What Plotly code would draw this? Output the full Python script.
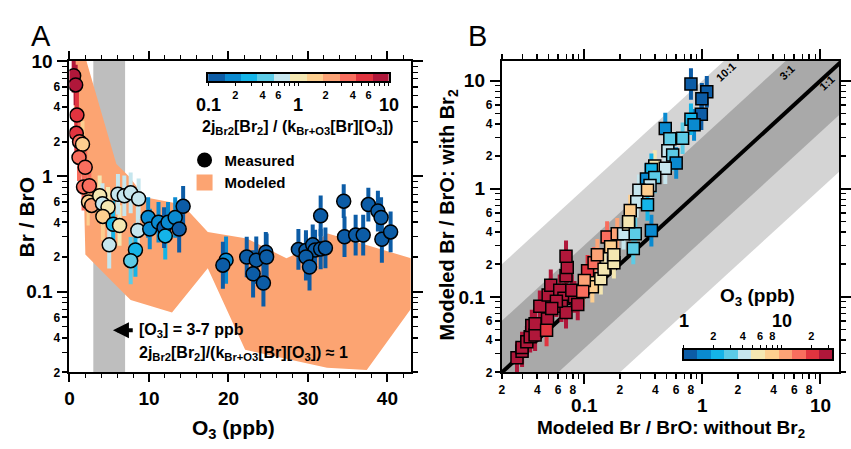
import numpy as np
import plotly.graph_objects as go

# ---------------- Panel A: measured Br/BrO vs O3 ----------------
o3_meas = [0.53, 0.78, 0.94, 0.86, 1.27, 1.64, 1.2, 1.98, 1.77, 2.5, 2.4, 2.8, 3.8, 4.15, 4.85, 4.2,
           5.5, 6.3, 5.0, 6.1, 6.9, 7.7, 8.7, 8.6, 8.3, 7.7, 9.9, 10.1, 11.2, 11.9, 12.05, 12.4,
           13.3, 13.8, 14.3, 19.7, 19.3, 22.3, 23.5, 24.7, 24.8, 23.1, 24.4, 28.8, 29.75, 30.6,
           30.9, 29.75, 30.2, 31.6, 32.2, 31.6, 34.5, 34.6, 36.0, 36.95, 37.6, 38.8, 39.2, 39.3, 40.4]
brbro_meas = [7.45, 6.2, 3.4, 2.36, 2.0, 1.9, 1.46, 1.2, 0.81, 0.83, 0.60, 0.56, 0.68, 0.58, 0.54, 0.45,
              0.385, 0.375, 0.255, 0.70, 0.68, 0.72, 0.64, 0.34, 0.23, 0.186, 0.44, 0.35, 0.40, 0.36, 0.305, 0.40,
              0.44, 0.35, 0.55, 0.188, 0.17, 0.20, 0.188, 0.22, 0.20, 0.143, 0.119, 0.233, 0.228, 0.255,
              0.23, 0.20, 0.164, 0.235, 0.24, 0.455, 0.61, 0.30, 0.31, 0.31, 0.57, 0.50, 0.44, 0.285, 0.33]
ratio_meas = [8, 7, 6.5, 6, 4.2, 1.5, 4, 3, 3.2, 3, 1.5, 2.2, 1.0, 0.65, 1.0, 1.5,
              0.3, 1.0, 0.65, 0.65, 0.65, 0.65, 0.65, 0.65, 0.3, 0.43, 0.19, 0.19, 0.19, 0.12, 0.3, 0.19,
              0.17, 0.12, 0.12, 0.19, 0.12, 0.12, 0.12, 0.12, 0.12, 0.12, 0.12, 0.12, 0.12, 0.12,
              0.12, 0.12, 0.12, 0.12, 0.12, 0.12, 0.12, 0.12, 0.12, 0.12, 0.12, 0.12, 0.12, 0.12, 0.12]
err_meas = [1.4, 1.5, 1.6, 1.6, 1.5, 1.6, 1.6, 1.6, 1.6, 1.5, 1.6, 1.6, 1.5, 1.5, 1.5, 1.6,
            1.6, 1.5, 1.6, 1.5, 1.5, 1.5, 1.5, 1.6, 1.7, 1.6, 1.5, 1.5, 1.5, 1.5, 1.6, 1.5,
            1.5, 1.6, 1.5, 1.6, 1.6, 1.5, 1.6, 1.5, 1.6, 1.6, 1.6, 1.5, 1.5, 1.5,
            1.5, 1.6, 1.6, 1.5, 1.5, 1.5, 1.4, 1.5, 1.5, 1.5, 1.4, 1.5, 1.5, 1.6, 1.5]

# Modeled range (upper and lower envelopes)
model_up_o3 = [0.4, 1.8, 5.9, 7.5, 9.5, 14.2, 17.4, 22.3, 27.3, 28.9, 32.5, 43.0]
model_up = [12, 12, 1.28, 1.0, 0.66, 0.57, 0.33, 0.29, 0.195, 0.22, 0.32, 0.195]
model_lo_o3 = [0.4, 0.6, 1.1, 1.8, 2.0, 6.9, 7.7, 12.9, 17.4, 22.1, 32.4, 37.4, 43.0]
model_lo = [12, 3.0, 1.3, 0.8, 0.21, 0.096, 0.085, 0.066, 0.16, 0.0314, 0.022, 0.021, 0.072]

o3_window = [3, 7]

# ---------------- Panel B: modeled with vs without Br2 ----------------
b_without = [0.0269, 0.0297, 0.0297, 0.0326, 0.0348, 0.0359, 0.0383, 0.0383, 0.0488, 0.042, 0.0494, 0.052,
             0.0619, 0.0672, 0.064, 0.07, 0.07, 0.0717, 0.07, 0.0826, 0.088, 0.0784, 0.058, 0.053, 0.0479,
             0.1066, 0.121, 0.129, 0.156, 0.167, 0.19, 0.117, 0.1, 0.097, 0.138, 0.147, 0.178, 0.178,
             0.215, 0.237, 0.27, 0.26, 0.37, 0.8, 1.09, 0.99, 0.98, 0.8, 0.85, 0.485, 0.53, 0.68, 0.51,
             0.56, 0.6, 0.395, 0.485, 0.37, 0.336, 0.395, 0.36, 0.29, 0.343, 0.278, 0.343, 0.245, 0.237]
b_with = [0.0274, 0.0314, 0.034, 0.0385, 0.0428, 0.0544, 0.0443, 0.0564, 0.0623, 0.082, 0.104, 0.128,
          0.115, 0.097, 0.082, 0.0715, 0.157, 0.187, 0.237, 0.1, 0.085, 0.115, 0.091, 0.078, 0.049,
          0.174, 0.207, 0.245, 0.358, 0.291, 0.383, 0.124, 0.142, 0.112, 0.147, 0.18, 0.207, 0.245,
          0.383, 0.47, 0.383, 0.28, 0.41, 9.3, 7.9, 6.8, 4.9, 4.4, 3.9, 3.6, 2.9, 2.93, 2.25,
          2.05, 1.73, 1.62, 1.55, 1.51, 1.23, 1.27, 1.07, 0.97, 0.97, 0.76, 0.71, 0.63, 0.494]
b_o3 = [27, 27, 27, 27, 27, 27, 27, 27, 27, 27, 27, 27,
        27, 27, 27, 27, 27, 27, 27, 27, 27, 27, 27, 27, 19.7,
        19.7, 14.4, 10.5, 14.4, 7.7, 10.5, 7.7, 10.5, 14.4, 5.6, 5.6, 5.6, 5.6,
        4.1, 5.6, 3.0, 3.0, 1.6, 1.17, 1.17, 1.17, 1.17, 2.2, 1.6, 1.6, 3.0, 3.0, 4.1,
        3.0, 1.6, 5.6, 4.1, 2.2, 1.6, 3.0, 4.1, 4.1, 7.7, 4.1, 2.2, 7.7, 5.6]
b_err = [1.4] * len(b_without)

ratio_lines = [10, 3]

# colour table shared by both colour bars (11 steps)
cb_colors = ["#0c5ca6", "#0a8ad0", "#14b4e8", "#5ccbe6", "#c6e6ee", "#f4e7b2",
             "#fdce8f", "#fca376", "#f96e5e", "#e1343f", "#b0173a"]
nC = len(cb_colors)
cscale = []
for i, c in enumerate(cb_colors):
    cscale.append([i / nC, c])
    cscale.append([(i + 1) / nC, c])

A_cmin, A_cmax = -1.0, 1.0           # log10 of 0.1 .. 10
B_cmin, B_cmax = 0.0, np.log10(32.8)  # log10 of O3 1 .. ~33 ppb

def bin_color(v, cmin, cmax):
    k = int(np.floor((np.log10(v) - cmin) / (cmax - cmin) * nC))
    return cb_colors[min(max(k, 0), nC - 1)]

W, H = 851, 449
def px(x):
    return x / W
def py(y):
    return 1 - y / H

FONT = "Liberation Sans"
fig = go.Figure()

# ---- Panel A ----
poly_x = list(model_up_o3) + list(model_lo_o3[::-1])
poly_y = list(model_up) + list(model_lo[::-1])
fig.add_trace(go.Scatter(x=poly_x, y=poly_y, fill="toself", fillcolor="#fca472",
                         line=dict(width=0), mode="lines", hoverinfo="skip",
                         showlegend=False, xaxis="x", yaxis="y"))

groups = {}
for x, y, r, f in zip(o3_meas, brbro_meas, ratio_meas, err_meas):
    c = bin_color(r, A_cmin, A_cmax)
    gx, gy = groups.setdefault(c, ([], []))
    gx += [x, x, None]
    gy += [y / f, y * f, None]
for c, (gx, gy) in groups.items():
    fig.add_trace(go.Scatter(x=gx, y=gy, mode="lines", line=dict(color=c, width=4),
                             showlegend=False, hoverinfo="skip", xaxis="x", yaxis="y3"))

fig.add_trace(go.Scatter(x=o3_meas, y=brbro_meas, mode="markers", showlegend=False,
                         marker=dict(size=14, symbol="circle", color=np.log10(ratio_meas),
                                     colorscale=cscale, cmin=A_cmin, cmax=A_cmax,
                                     line=dict(color="black", width=1.5)),
                         xaxis="x", yaxis="y3"))

# legend entries
fig.add_trace(go.Scatter(x=[None], y=[None], mode="markers", name="Measured",
                         marker=dict(size=15, color="black", symbol="circle"), xaxis="x", yaxis="y3"))
fig.add_trace(go.Scatter(x=[None], y=[None], mode="markers", name="Modeled",
                         marker=dict(size=16, color="#fca472", symbol="square"), xaxis="x", yaxis="y3"))

# ---- Panel B ----
band_x = [1e-3, 1e2]
for r, col in zip(ratio_lines, ["#d4d4d4", "#a9a9a9"]):
    fig.add_trace(go.Scatter(x=[band_x[0], band_x[1], band_x[1], band_x[0]],
                             y=[band_x[0] * r, band_x[1] * r, band_x[1] / r, band_x[0] / r],
                             fill="toself", fillcolor=col, line=dict(width=0), mode="lines",
                             hoverinfo="skip", showlegend=False, xaxis="x2", yaxis="y2"))
fig.add_trace(go.Scatter(x=band_x, y=band_x, mode="lines", line=dict(color="black", width=4),
                         showlegend=False, hoverinfo="skip", xaxis="x2", yaxis="y2"))

groupsB = {}
for x, y, o, f in zip(b_without, b_with, b_o3, b_err):
    c = bin_color(o, B_cmin, B_cmax)
    gx, gy = groupsB.setdefault(c, ([], []))
    gx += [x, x, None]
    gy += [y / f, y * f, None]
for c, (gx, gy) in groupsB.items():
    fig.add_trace(go.Scatter(x=gx, y=gy, mode="lines", line=dict(color=c, width=4),
                             showlegend=False, hoverinfo="skip", xaxis="x4", yaxis="y4"))

fig.add_trace(go.Scatter(x=b_without, y=b_with, mode="markers", showlegend=False,
                         marker=dict(size=12, symbol="square", color=np.log10(b_o3),
                                     colorscale=cscale, cmin=B_cmin, cmax=B_cmax,
                                     line=dict(color="black", width=1.5)),
                         xaxis="x4", yaxis="y4"))

# ---- colour bars as heatmaps ----
edgesA = np.linspace(A_cmin, A_cmax, nC + 1)
edgesB = np.linspace(B_cmin, B_cmax, nC + 1)
fig.add_trace(go.Heatmap(z=[list(range(nC))], x=edgesA, y=[0, 1], colorscale=cscale,
                         zmin=-0.5, zmax=nC - 0.5, showscale=False, hoverinfo="skip",
                         xaxis="x5", yaxis="y5"))
fig.add_trace(go.Heatmap(z=[list(range(nC))], x=edgesB, y=[0, 1], colorscale=cscale,
                         zmin=-0.5, zmax=nC - 0.5, showscale=False, hoverinfo="skip",
                         xaxis="x7", yaxis="y7"))

# ---------------- axes ----------------
def decade_vals(mults, decades):
    return [m * 10.0 ** d for d in decades for m in mults]

def digit_labels(vals):
    return [str(int(round(v / 10 ** np.floor(np.log10(v) + 1e-9)))) for v in vals]

bold = dict(family=FONT, color="black", weight="bold")
common = dict(showline=True, linecolor="black", linewidth=2, ticks="outside", tickcolor="black",
              tickwidth=1.5, mirror="ticks", showgrid=False, zeroline=False)

domA_x = [px(65.7), px(413.5)]
domB_x = [px(506.3), 0.999]
dom_y = [py(376.7), py(53)]
rA_y = [np.log10(0.02), 1]
rB_x = [np.log10(0.02), np.log10(14.4)]
rB_y = [np.log10(0.02), np.log10(15.2)]

smallA_y = decade_vals([2, 4, 6], [-2, -1, 0])
minorA_y = decade_vals([3, 5, 7, 8, 9], [-2, -1, 0])
smallB_x = decade_vals([2, 4, 6, 8], [-2, -1, 0])
minorB_x = decade_vals([3, 5, 7, 9], [-2, -1, 0])
smallB_y = decade_vals([2, 4, 6], [-2, -1, 0])
minorB_y = decade_vals([3, 5, 7, 8, 9], [-2, -1, 0])
big_vals = [0.1, 1, 10]
big_text = ["0.1", "1", "10"]

def minor(vals):
    return dict(tickvals=vals, ticks="outside", ticklen=5, tickwidth=1.3, tickcolor="black")

layout = dict(
    width=W, height=H, margin=dict(l=0, r=0, t=0, b=0),
    paper_bgcolor="white", plot_bgcolor="rgba(0,0,0,0)",
    font=dict(family=FONT, color="black"),
    xaxis=dict(domain=domA_x, range=[0, 42.93], anchor="y", tickvals=[0, 10, 20, 30, 40],
               ticklen=8, tickfont=dict(size=19, **bold),
               minor=dict(dtick=2, tick0=0, ticks="outside", ticklen=4, tickwidth=1.3, tickcolor="black"),
               **common),
    yaxis=dict(domain=dom_y, type="log", range=rA_y, anchor="x",
               tickvals=smallA_y, ticktext=digit_labels(smallA_y),
               ticklen=5, tickfont=dict(size=12, **bold), minor=minor(minorA_y), **common),
    yaxis3=dict(overlaying="y", anchor="x", side="left", type="log", range=rA_y,
                tickvals=big_vals, ticktext=big_text, ticklen=10, tickfont=dict(size=19, **bold),
                ticklabelstandoff=1, **common),
    xaxis2=dict(domain=domB_x, type="log", range=rB_x, anchor="y2",
                tickvals=smallB_x, ticktext=digit_labels(smallB_x),
                ticklen=5, tickfont=dict(size=12, **bold), minor=minor(minorB_x), **common),
    yaxis2=dict(domain=dom_y, type="log", range=rB_y, anchor="x2",
                tickvals=smallB_y, ticktext=digit_labels(smallB_y),
                ticklen=5, tickfont=dict(size=12, **bold), minor=minor(minorB_y), **common),
    xaxis4=dict(overlaying="x2", anchor="y2", side="bottom", type="log", range=rB_x,
                tickvals=big_vals, ticktext=big_text, ticklen=10, tickfont=dict(size=19, **bold),
                ticklabelstandoff=5, **common),
    yaxis4=dict(overlaying="y2", anchor="x2", side="left", type="log", range=rB_y,
                tickvals=big_vals, ticktext=big_text, ticklen=10, tickfont=dict(size=19, **bold),
                ticklabelstandoff=1, **common),
)

cb_common = dict(showline=True, linecolor="black", linewidth=1.5, mirror=True, showgrid=False,
                 zeroline=False, ticks="outside", tickcolor="black", tickwidth=1.2)
# colour-bar A (labels below)
cbA_small = np.log10(decade_vals([2, 4, 6], [-1, 0]))
cbA_minor = np.log10(decade_vals([3, 5, 7, 8, 9], [-1, 0]) + big_vals)
layout["xaxis5"] = dict(domain=[px(207), px(391)], range=[A_cmin, A_cmax], anchor="y5", side="bottom",
                        tickvals=cbA_small, ticktext=["2", "4", "6"] * 2, ticklen=3,
                        tickfont=dict(size=11, **bold),
                        minor=dict(tickvals=cbA_minor, ticks="outside", ticklen=3, tickcolor="black"),
                        **cb_common)
layout["yaxis5"] = dict(domain=[py(74), py(66)], range=[0, 1], anchor="x5", showticklabels=False,
                        showline=True, linecolor="black", linewidth=1.5, mirror=True,
                        showgrid=False, zeroline=False, ticks="")
# colour-bar B (labels above)
cbB_small = np.log10([2, 4, 6, 8, 20])
cbB_minor = np.log10([1, 3, 5, 7, 9, 10, 30])
layout["xaxis7"] = dict(domain=[px(691.7), px(843.3)], range=[B_cmin, B_cmax], anchor="y7", side="top",
                        tickvals=cbB_small, ticktext=["2", "4", "6", "8", "2"], ticklen=3,
                        tickfont=dict(size=11, **bold),
                        minor=dict(tickvals=cbB_minor, ticks="outside", ticklen=3, tickcolor="black"),
                        **cb_common)
layout["yaxis7"] = dict(domain=[py(363), py(353)], range=[0, 1], anchor="x7", showticklabels=False,
                        showline=True, linecolor="black", linewidth=1.5, mirror=True,
                        showgrid=False, zeroline=False, ticks="")

layout["legend"] = dict(x=px(183), y=py(139), xanchor="left", yanchor="top",
                        font=dict(size=15, **bold), bgcolor="rgba(0,0,0,0)", tracegroupgap=0,
                        itemwidth=30)

layout["shapes"] = [dict(type="rect", xref="x", yref="y domain", x0=o3_window[0], x1=o3_window[1],
                         y0=0, y1=1, fillcolor="#bebebe", line=dict(width=0), layer="below")]

ann = []
def paper_text(text, x, y, size, angle=0, weight="bold", xanchor="center"):
    ann.append(dict(text=text, x=px(x), y=py(y), xref="paper", yref="paper", showarrow=False,
                    textangle=angle, xanchor=xanchor, yanchor="middle",
                    font=dict(size=size, family=FONT, color="black", weight=weight)))

paper_text("A", 37, 27, 29, weight="normal")
paper_text("B", 482, 27, 29, weight="normal")
paper_text("O<sub>3</sub> (ppb)", 233, 436, 21)
paper_text("Br / BrO", 22, 215, 21, angle=-90)
paper_text("Modeled Br / BrO: without Br<sub>2</sub>", 679, 436, 19)
paper_text("Modeled Br / BrO: with Br<sub>2</sub>", 452, 213, 20, angle=-90)
paper_text("2j<sub>Br2</sub>[Br<sub>2</sub>] / (k<sub>Br+O3</sub>[Br][O<sub>3</sub>])", 298, 122, 16)
paper_text("O<sub>3</sub> (ppb)", 767, 298, 19)

# big colour-bar labels (second row)
for v, t in zip(np.log10(big_vals), big_text):
    ann.append(dict(x=v, y=py(99), xref="x5", yref="paper", text=t, showarrow=False,
                    yanchor="middle", font=dict(size=18, **bold)))
for v, t in zip([0, 1], ["1", "10"]):
    ann.append(dict(x=v, y=py(323), xref="x7", yref="paper", text=t, showarrow=False,
                    yanchor="middle", font=dict(size=18, **bold)))

# arrow and notes in panel A
yA = 1 - (333 - 53) / 120.0
yA2 = 1 - (357 - 53) / 120.0
ann.append(dict(x=5.47, y=yA, ax=8.15, ay=yA, xref="x", yref="y", axref="x", ayref="y",
                text="", showarrow=True, arrowhead=2, arrowwidth=4, arrowsize=0.8, arrowcolor="black"))
ann.append(dict(x=8.55, y=yA, xref="x", yref="y", text="[O<sub>3</sub>] = 3-7 ppb", showarrow=False,
                xanchor="left", font=dict(size=16, **bold)))
ann.append(dict(x=8.55, y=yA2, xref="x", yref="y",
                text="2j<sub>Br2</sub>[Br<sub>2</sub>]/(k<sub>Br+O3</sub>[Br][O<sub>3</sub>]) \u2248 1",
                showarrow=False, xanchor="left", font=dict(size=16, **bold)))

# ratio labels in panel B
for r, t, yl, sh in zip([10, 3, 1], ["10:1", "3:1", "1:1"], [12.0, 12.0, 9.5], [14, 14, 9]):
    ann.append(dict(x=np.log10(yl / r), y=np.log10(yl), xref="x2", yref="y2",
                    text=t, showarrow=False, textangle=-43, xshift=sh,
                    font=dict(size=11, **bold)))

layout["annotations"] = ann
fig.update_layout(**layout)
fig.write_html("out.html", config={"displayModeBar": False},
               post_script="document.body.style.margin='0';document.body.style.overflow='hidden';")
